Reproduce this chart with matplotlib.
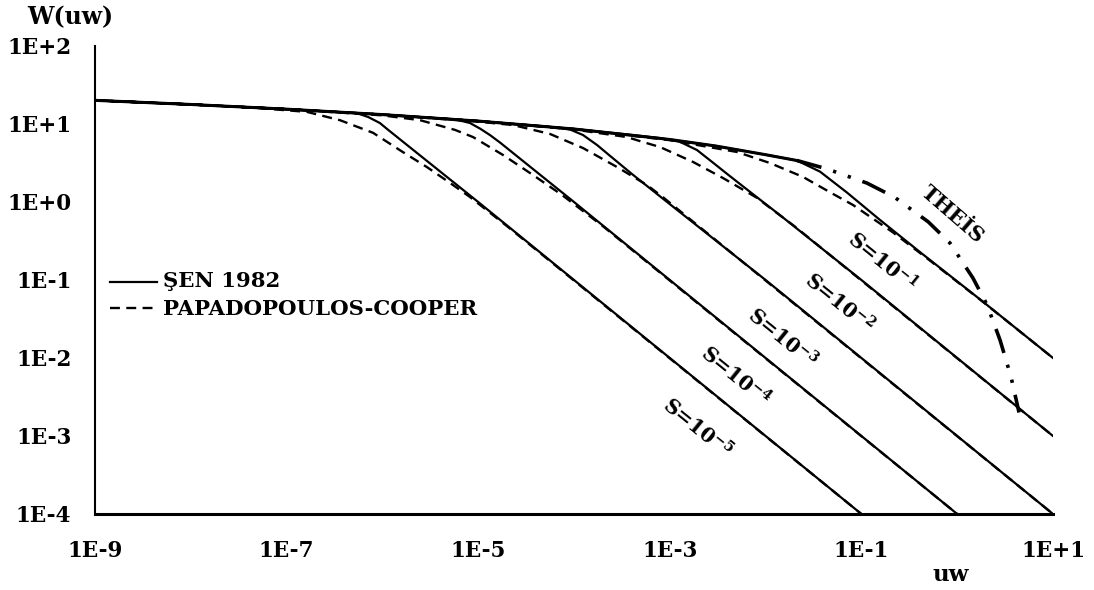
import numpy as np
import matplotlib
matplotlib.use("Agg")
import matplotlib.pyplot as plt
from matplotlib.lines import Line2D

plt.rcParams['font.family'] = ['DejaVu Serif', 'Liberation Serif']
plt.rcParams['font.weight'] = 'bold'
plt.rcParams['mathtext.fontset'] = 'custom'
plt.rcParams['mathtext.rm'] = 'DejaVu Serif:bold'
plt.rcParams['mathtext.it'] = 'DejaVu Serif:bold:italic'
plt.rcParams['mathtext.bf'] = 'DejaVu Serif:bold'
plt.rcParams['mathtext.default'] = 'rm'

# ---------------- data ----------------
# Theis well function (shared upper branch, then dash-dot tail)
theis_uw = [1e-9, 1e-8, 1e-7, 1e-6, 1e-5, 1e-4, 1e-3, 3e-3, 1e-2, 2.13e-2,
            4.4e-2, 0.114, 0.22, 0.5, 0.84, 1.46, 2.05, 2.8, 3.65, 4.42]
theis_W = [20.1, 17.8, 15.5, 13.2, 10.9, 8.63, 6.33, 5.23, 4.04, 3.40,
           2.65, 1.75, 1.16, 0.555, 0.298, 0.106, 0.048, 0.017, 0.0057, 0.0020]
theis_dash_from = 2.13e-2

# SEN 1982 (solid) -- tails after leaving the Theis branch
sen_s5_uw = [3e-7, 5.4e-7, 7.1e-7, 9.4e-7, 1.15e-6, 1e-5, 1e-3, 1e-1]
sen_s5_W = [14.4, 13.8, 12.3, 10.3, 8.4, 1.0, 1e-2, 1e-4]
sen_s4_uw = [3e-6, 5.7e-6, 8.2e-6, 1.05e-5, 1.33e-5, 1.7e-5, 1e-4, 1e-2, 1.0]
sen_s4_W = [12.1, 11.5, 10.3, 8.7, 7.2, 5.75, 1.0, 1e-2, 1e-4]
sen_s3_uw = [5e-5, 9.1e-5, 1.24e-4, 1.74e-4, 2.38e-4, 4e-4, 8.5e-4, 1e-2, 10.0]
sen_s3_W = [9.33, 8.5, 7.23, 5.38, 3.9, 2.3, 1.1, 0.1, 1e-4]
sen_s2_uw = [4e-4, 7.9e-4, 1.28e-3, 1.92e-3, 2.82e-3, 3.95e-3, 6.87e-3, 1.41e-2, 0.1, 10.0]
sen_s2_W = [7.25, 6.6, 5.9, 4.64, 3.2, 2.3, 1.35, 0.68, 0.1, 1e-3]
sen_s1_uw = [1.11e-2, 2.13e-2, 3.7e-2, 7.08e-2, 0.156, 0.409, 1.73, 10.0]
sen_s1_W = [3.95, 3.40, 2.45, 1.32, 0.59, 0.228, 0.0565, 0.01]

# PAPADOPOULOS-COOPER (dashed) -- tails after leaving the Theis branch
pc_s5_uw = [5e-8, 1.63e-7, 3.6e-7, 8e-7, 1.53e-6, 2.92e-6, 5.1e-6, 8.2e-6, 2e-5, 1e-1]
pc_s5_W = [16.0, 14.3, 11.2, 7.7, 4.6, 2.8, 1.75, 1.16, 0.49, 1e-4]
pc_s4_uw = [1e-6, 2.47e-6, 5.73e-6, 8.83e-6, 1.82e-5, 3.73e-5, 7.5e-5, 2e-4, 1.0]
pc_s4_W = [12.9, 11.2, 8.4, 6.8, 4.0, 2.22, 1.23, 0.49, 1e-4]
pc_s3_uw = [1e-5, 2.31e-5, 5.62e-5, 1.24e-4, 2.81e-4, 5.78e-4, 8.5e-4, 2e-3, 10.0]
pc_s3_W = [10.7, 9.7, 7.45, 4.92, 2.81, 1.65, 1.15, 0.49, 1e-4]
pc_s2_uw = [1e-4, 3.57e-4, 5.25e-4, 7.9e-4, 1.75e-3, 3.59e-3, 8.13e-3, 1.19e-2, 2e-2, 10.0]
pc_s2_W = [8.5, 6.8, 5.87, 5.07, 3.26, 2.03, 1.13, 0.79, 0.49, 1e-3]
pc_s1_uw = [1e-3, 5.02e-3, 1.11e-2, 2.45e-2, 5.05e-2, 8.17e-2, 0.214, 0.5, 1.73, 10.0]
pc_s1_W = [6.2, 4.38, 3.16, 2.1, 1.27, 0.916, 0.407, 0.184, 0.0562, 0.01]

x_ticks = [1e-9, 1e-7, 1e-5, 1e-3, 1e-1, 1e1]
x_tick_labels = ['1E-9', '1E-7', '1E-5', '1E-3', '1E-1', '1E+1']
y_ticks = [1e-4, 1e-3, 1e-2, 1e-1, 1e0, 1e1, 1e2]
y_tick_labels = ['1E-4', '1E-3', '1E-2', '1E-1', '1E+0', '1E+1', '1E+2']

curve_labels = [r'S=10$^{-1}$', r'S=10$^{-2}$', r'S=10$^{-3}$', r'S=10$^{-4}$', r'S=10$^{-5}$']
legend_labels = ['ŞEN 1982', 'PAPADOPOULOS-COOPER']
theis_label = 'THEİS'

# ---------------- figure ----------------
FW, FH = 1094, 590
fig = plt.figure(figsize=(FW / 100, FH / 100), dpi=100)


def fx(px):
    return px / FW


def fy(py):
    return 1 - py / FH


ax = fig.add_axes([fx(95), fy(514), fx(1053) - fx(95), fy(46) - fy(514)])

t_uw = np.array(theis_uw)
t_W = np.array(theis_W)


def with_head(uw, w):
    uw = np.array(uw)
    m = t_uw < uw[0]
    return np.concatenate([t_uw[m], uw]), np.concatenate([t_W[m], np.array(w)])


SOLID_LW = 1.6
DASH_LW = 1.7
PC_DASHES = [4.2, 2.7]

for uw, w in [(sen_s5_uw, sen_s5_W), (sen_s4_uw, sen_s4_W), (sen_s3_uw, sen_s3_W),
              (sen_s2_uw, sen_s2_W), (sen_s1_uw, sen_s1_W)]:
    xx, yy = with_head(uw, w)
    ax.plot(xx, yy, color='black', lw=SOLID_LW, solid_joinstyle='round')

for uw, w in [(pc_s5_uw, pc_s5_W), (pc_s4_uw, pc_s4_W), (pc_s3_uw, pc_s3_W),
              (pc_s2_uw, pc_s2_W), (pc_s1_uw, pc_s1_W)]:
    xx, yy = with_head(uw, w)
    ax.plot(xx, yy, color='black', lw=DASH_LW, dashes=PC_DASHES, dash_capstyle='butt')

# Theis: solid common branch + dash-dot-dot tail
m_head = t_uw <= theis_dash_from
ax.plot(t_uw[m_head], t_W[m_head], color='black', lw=2.2)
m_tail = t_uw >= theis_dash_from
ax.plot(t_uw[m_tail], t_W[m_tail], color='black', lw=2.6,
        dashes=[7.0, 3.4, 0.9, 3.4, 0.9, 3.4], dash_capstyle='butt')

ax.set_xscale('log')
ax.set_yscale('log')
ax.set_xlim(1e-9, 1e1)
ax.set_ylim(1e-4, 1e2)
ax.set_xticks(x_ticks)
ax.set_xticklabels(x_tick_labels)
ax.set_yticks(y_ticks)
ax.set_yticklabels(y_tick_labels)
ax.minorticks_off()
ax.tick_params(axis='both', length=0, labelsize=15.5)
ax.tick_params(axis='x', pad=19)
ax.tick_params(axis='y', pad=17)
for lab in ax.get_xticklabels() + ax.get_yticklabels():
    lab.set_fontweight('bold')
ax.spines['top'].set_visible(False)
ax.spines['right'].set_visible(False)
ax.spines['left'].set_linewidth(1.5)
ax.spines['bottom'].set_linewidth(2.2)
ax.patch.set_visible(False)

# axis titles
fig.text(fx(70), fy(17), 'W(uw)', ha='center', va='center', fontsize=17, fontweight='bold')
fig.text(fx(951), fy(575), 'uw', ha='center', va='center', fontsize=16.5, fontweight='bold')

# curve labels
label_pos = [(882, 262), (839, 303), (782, 338), (735, 376), (697, 428)]
for txt, (px, py) in zip(curve_labels, label_pos):
    fig.text(fx(px), fy(py), txt, rotation=-39, rotation_mode='anchor',
             ha='center', va='center', fontsize=14.5, fontweight='bold')
fig.text(fx(953), fy(215), theis_label, rotation=-41, rotation_mode='anchor',
         ha='center', va='center', fontsize=15, fontweight='bold')

# legend (manual)
fig.add_artist(Line2D([fx(110), fx(157)], [fy(282), fy(282)], transform=fig.transFigure,
                      color='black', lw=SOLID_LW))
fig.add_artist(Line2D([fx(110), fx(157)], [fy(308), fy(308)], transform=fig.transFigure,
                      color='black', lw=DASH_LW, dashes=PC_DASHES, dash_capstyle='butt'))
fig.text(fx(163), fy(281), legend_labels[0], ha='left', va='center', fontsize=15.3, fontweight='bold')
fig.text(fx(163), fy(309), legend_labels[1], ha='left', va='center', fontsize=15.3, fontweight='bold')

fig.savefig('out.png', dpi=100, facecolor='white')
